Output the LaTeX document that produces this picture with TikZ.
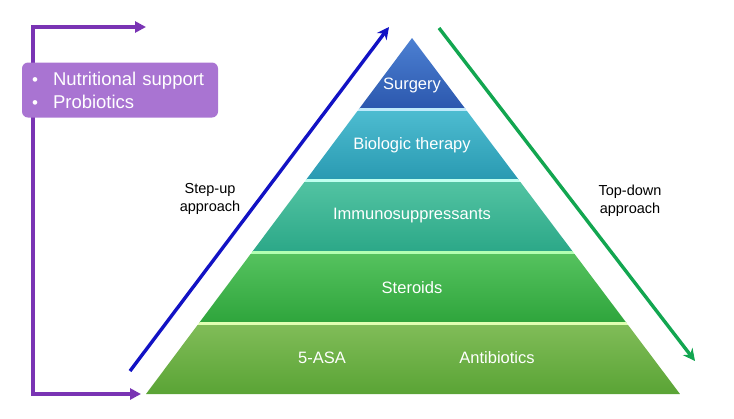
\documentclass[tikz,border=0pt]{standalone}
\usepackage{fontspec}
\setmainfont{Liberation Sans}
\usetikzlibrary{arrows.meta}
\definecolor{surgtop}{HTML}{4C80D2}
\definecolor{surgbot}{HTML}{2C58AE}
\definecolor{biotop}{HTML}{4DBCD0}
\definecolor{biobot}{HTML}{2A9AB2}
\definecolor{immtop}{HTML}{52C3A2}
\definecolor{immbot}{HTML}{2CA888}
\definecolor{sterTop}{HTML}{55C25E}
\definecolor{sterBot}{HTML}{2FA53C}
\definecolor{asatop}{HTML}{80BC58}
\definecolor{asabot}{HTML}{5AA435}
\definecolor{upblue}{HTML}{1212C4}
\definecolor{downgreen}{HTML}{12A650}
\definecolor{boxpurple}{HTML}{A974D2}
\definecolor{linepurple}{HTML}{7A34B4}
\begin{document}
\begin{tikzpicture}[x=1pt,y=-1pt,
  layer/.style={white,font=\fontsize{16.5}{20}\selectfont},
  side/.style={black,align=center,font=\fontsize{14.5}{18}\selectfont},
  approach/.style={line width=3.4pt,-{Stealth[length=12pt,width=12pt]}},
  feed/.style={linepurple,line width=3.2pt,-{Triangle[length=11pt,width=11pt]}}]
\useasboundingbox (0,0) rectangle (734,418);
% pyramid bands
\begin{scope}
\clip (146,394) -- (412,38) -- (680,394) -- cycle;
\shade[top color=surgtop,bottom color=surgbot] (100,38) rectangle (700,108);
\fill[cyan!25] (100,108) rectangle (700,111);
\shade[top color=biotop,bottom color=biobot] (100,111) rectangle (700,179);
\fill[green!25!cyan!25] (100,179) rectangle (700,182);
\shade[top color=immtop,bottom color=immbot] (100,182) rectangle (700,251);
\fill[green!30] (100,251) rectangle (700,254);
\shade[top color=sterTop,bottom color=sterBot] (100,254) rectangle (700,322);
\fill[green!40!yellow!30] (100,322) rectangle (700,325);
\shade[top color=asatop,bottom color=asabot] (100,325) rectangle (700,394);
\end{scope}
\node[layer] (surgery) at (412,85) {Surgery};
\node[layer] (biologic) at (412,145) {Biologic therapy};
\node[layer] (immuno) at (412,216) {Immunosuppressants};
\node[layer] (steroids) at (412,288) {Steroids};
\node[layer] (asa) at (322,358) {5-ASA};
\node[layer] (antibiotics) at (497,358) {Antibiotics};
% approaches
\coordinate (upstart) at (130,371);
\coordinate (upend) at (389,27);
\coordinate (downstart) at (439,28);
\coordinate (downend) at (695,361);
\draw[approach,upblue] (upstart) -- (upend);
\draw[approach,downgreen] (downstart) -- (downend);
\node[side] (stepup) at (210,199) {Step-up\\approach};
\node[side] (topdown) at (630,201) {Top-down\\approach};
% supportive care
\coordinate (feedtop) at (146,27);
\coordinate (feedbot) at (141,394);
\draw[feed] (33,90) |- (feedtop);
\draw[feed] (33,90) |- (feedbot);
\node[fill=boxpurple,rounded corners=6pt,minimum height=55pt,
  text width=178pt,inner xsep=9pt,text=white,align=left,
  font=\fontsize{18.5}{23}\selectfont]
  (support) at (120,90)
  {\makebox[22pt][l]{\hspace{1pt}\fontsize{17}{17}\selectfont\textbullet}Nutritional support\\
   \makebox[22pt][l]{\hspace{1pt}\fontsize{17}{17}\selectfont\textbullet}Probiotics};
\end{tikzpicture}
\end{document}
